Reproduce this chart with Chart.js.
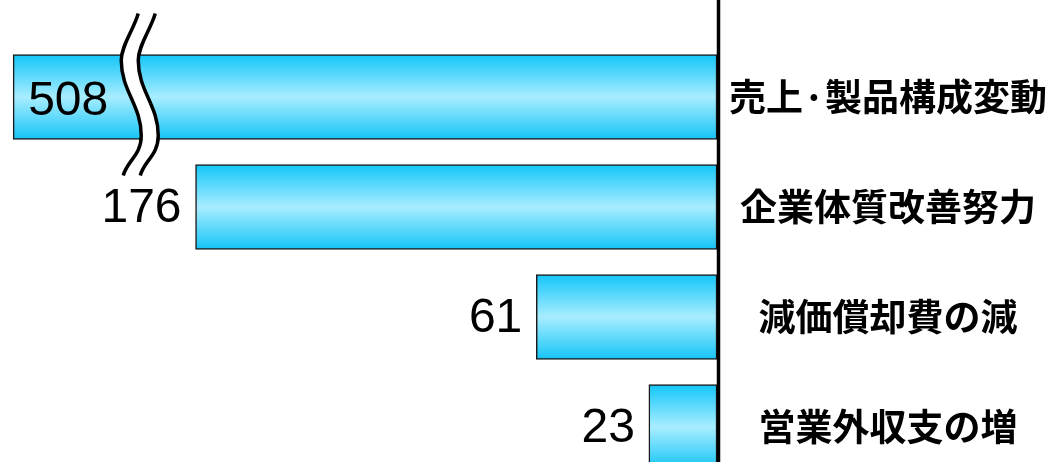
<!DOCTYPE html>
<html><head><meta charset="utf-8">
<script src="https://cdn.jsdelivr.net/npm/chart.js@4.4.0/dist/chart.umd.min.js"></script>
<style>
html,body{margin:0;padding:0;background:#fff;overflow:hidden;width:1048px;height:462px}
canvas{display:block}
</style></head>
<body><canvas id="c" width="1048" height="490" style="width:1048px;height:490px"></canvas>
<script>
// ---- data ----
const categories = ['売上·製品構成変動', '企業体質改善努力', '減価償却費の減', '営業外収支の増'];
const values = [508, 176, 61, 23];
const valueLabels = ['508', '176', '61', '23'];
// broken axis: values beyond BREAK_AT are compressed
const BREAK_AT = 195;
const BREAK_SCALE = 0.136;
const X_MAX = 242;

function axisValue(v) { return v <= BREAK_AT ? v : BREAK_AT + (v - BREAK_AT) * BREAK_SCALE; }

const BAR_THICK = 85;

function barFill(ctx) {
  const chart = ctx.chart;
  const y = chart.scales && chart.scales.y;
  if (!y || ctx.dataIndex === undefined || !chart.chartArea) return '#33ccf5';
  const c = y.getPixelForValue(ctx.dataIndex);
  const t = c - BAR_THICK / 2, b = c + BAR_THICK / 2;
  const g = chart.ctx.createLinearGradient(0, t, 0, b);
  g.addColorStop(0, '#12c6f9');
  g.addColorStop(0.5, '#a8edff');
  g.addColorStop(1, '#14c4f6');
  return g;
}

const decor = {
  id: 'decor',
  afterDatasetsDraw(chart) {
    const ctx = chart.ctx;
    const xs = chart.scales.x;
    const meta = chart.getDatasetMeta(0);
    ctx.save();
    // value labels
    ctx.font = '48px "Liberation Sans", Arial, sans-serif';
    ctx.fillStyle = '#000';
    ctx.textBaseline = 'middle';
    meta.data.forEach((el, i) => {
      if (values[i] > BREAK_AT) {
        ctx.textAlign = 'left';
        ctx.fillText(valueLabels[i], el.x + 15, el.y + 5);
      } else {
        ctx.textAlign = 'right';
        ctx.fillText(valueLabels[i], el.x - 14, el.y + 2);
      }
    });
    // break mark
    const bi = values.findIndex(v => v > BREAK_AT);
    if (bi >= 0) {
      const el = meta.data[bi];
      const top = el.y - el.height / 2, bot = el.y + el.height / 2;
      const bp = xs.getPixelForValue(BREAK_AT);
      const y0 = top - 41, y1 = top + 6, y2 = bot - 4, y3 = bot + 36;
      const curve = (x) => {
        ctx.moveTo(x + 7, y0);
        ctx.bezierCurveTo(x + 2, y0 + 17, x - 10, y1 - 15, x - 10, y1);
        ctx.bezierCurveTo(x - 10, y1 + 30, x + 10, y2 - 30, x + 10, y2);
        ctx.bezierCurveTo(x + 10, y2 + 20, x - 4, y3 - 15, x - 8, y3);
      };
      const curveRev = (x) => {
        ctx.lineTo(x - 8, y3);
        ctx.bezierCurveTo(x - 4, y3 - 15, x + 10, y2 + 20, x + 10, y2);
        ctx.bezierCurveTo(x + 10, y2 - 30, x - 10, y1 + 30, x - 10, y1);
        ctx.bezierCurveTo(x - 10, y1 - 15, x + 2, y0 + 17, x + 7, y0);
      };
      const xl = bp - 8, xr = bp + 9;
      ctx.beginPath();
      curve(xl);
      curveRev(xr);
      ctx.closePath();
      ctx.fillStyle = '#fff';
      ctx.fill();
      ctx.strokeStyle = '#000';
      ctx.lineWidth = 3.5;
      ctx.lineCap = 'butt';
      ctx.beginPath(); curve(xl); ctx.stroke();
      ctx.beginPath(); curve(xr); ctx.stroke();
    }
    // vertical axis line (full height)
    const ax = xs.getPixelForValue(0) + 1.5;
    ctx.beginPath();
    ctx.strokeStyle = '#000';
    ctx.lineWidth = 3.5;
    ctx.moveTo(ax, 0);
    ctx.lineTo(ax, chart.height);
    ctx.stroke();
    ctx.restore();
  }
};

new Chart(document.getElementById('c'), {
  type: 'bar',
  data: {
    labels: categories,
    datasets: [{
      data: values.map(axisValue),
      backgroundColor: barFill,
      borderColor: '#1a1a1a',
      borderWidth: 1.5,
      borderSkipped: false,
      barThickness: BAR_THICK
    }]
  },
  options: {
    indexAxis: 'y',
    responsive: false,
    maintainAspectRatio: false,
    animation: false,
    layout: { padding: { top: 42, bottom: 8, left: 0, right: 0 } },
    plugins: { legend: { display: false }, tooltip: { enabled: false } },
    scales: {
      x: { type: 'linear', min: 0, max: X_MAX, reverse: true, display: false },
      y: {
        type: 'category',
        position: 'right',
        grid: { display: false, drawTicks: false },
        border: { display: false },
        ticks: {
          color: '#000',
          padding: 12,
          crossAlign: 'center',
          font: { family: '"Noto Sans CJK JP", sans-serif', size: 37, weight: 'bold' }
        },
        afterFit(scale) { scale.width = 331; scale.paddingTop = 0; scale.paddingBottom = 0; }
      }
    }
  },
  plugins: [decor]
});
</script>
</body></html>
